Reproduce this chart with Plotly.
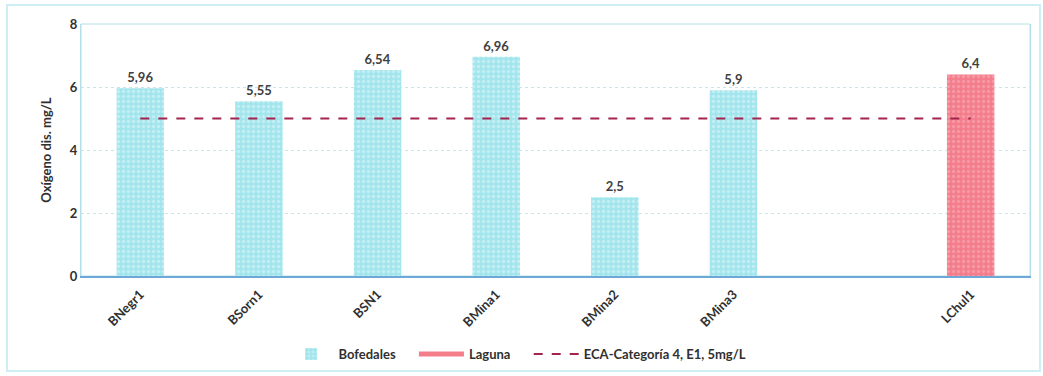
import plotly.graph_objects as go

# Dissolved oxygen per sampling station (mg/L)
stations = ["BNegr1", "BSorn1", "BSN1", "BMina1", "BMina2", "BMina3", " ", "LChul1"]
bofedales_values = [5.96, 5.55, 6.54, 6.96, 2.5, 5.9, None, None]
laguna_values = [None, None, None, None, None, None, None, 6.4]
eca_limit = 5
y_ticks = [0, 2, 4, 6, 8]

FONT = "Lato, 'Open Sans', sans-serif"
CYAN = "#a3e5ec"
RED = "#f47d8c"
PAD = "&nbsp;" * 4

fig = go.Figure()

fig.add_trace(go.Bar(
    x=stations, y=bofedales_values, name="<b>Bofedales</b>" + PAD,
    marker=dict(color=CYAN, line=dict(width=0),
                pattern=dict(shape=".", fgcolor="#e4f8fa", size=5, solidity=0.35,
                             fillmode="overlay")),
    width=0.4,
    text=bofedales_values, texttemplate="<b>%{y}</b>", textposition="outside",
    textfont=dict(family=FONT, size=13, color="#404040"),
    cliponaxis=False, showlegend=True,
))

fig.add_trace(go.Bar(
    x=stations, y=laguna_values, name="Laguna",
    marker=dict(color=RED, line=dict(width=0),
                pattern=dict(shape=".", fgcolor="#f9b3bd", size=5, solidity=0.35,
                             fillmode="overlay")),
    width=0.4,
    text=laguna_values, texttemplate="<b>%{y}</b>", textposition="outside",
    textfont=dict(family=FONT, size=13, color="#404040"),
    cliponaxis=False, showlegend=False,
))

# Legend entry for the lagoon series drawn as a thick line
fig.add_trace(go.Scatter(
    x=[None], y=[None], mode="lines", name="<b>Laguna</b>" + PAD,
    line=dict(color=RED, width=5), showlegend=True,
))

# ECA reference limit, drawn across every station
fig.add_trace(go.Scatter(
    x=stations, y=[eca_limit] * len(stations), mode="lines",
    name="<b>ECA-Categoría 4, E1, 5mg/L</b>",
    line=dict(color="#a3254f", width=2, dash="dash"),
))

fig.update_layout(
    width=1043, height=376,
    margin=dict(l=81, r=13, t=24, b=100, autoexpand=False),
    paper_bgcolor="white", plot_bgcolor="white",
    barmode="overlay", separators=",.",
    font=dict(family=FONT, color="#404040"),
    legend=dict(orientation="h", x=0.46, xanchor="center", y=-0.31, yanchor="middle",
                font=dict(family=FONT, size=13, color="#303030"),
                traceorder="normal", itemwidth=45),
    shapes=[dict(type="rect", xref="paper", yref="paper",
                 x0=-0.078, x1=1.0105, y0=-0.377, y1=1.075,
                 line=dict(color="#cdeff3", width=2), fillcolor="rgba(0,0,0,0)",
                 layer="below")],
)

fig.update_xaxes(
    type="category", tickangle=-45, automargin=False,
    tickfont=dict(family=FONT, size=13, color="#303030"),
    ticklabelstandoff=4,
    showline=True, linecolor="#6ea8d6", linewidth=1.5, mirror=False,
    showgrid=False, ticks="",
    tickvals=stations,
    ticktext=["<b>%s</b>" % s.strip() if s.strip() else "" for s in stations],
)

fig.update_yaxes(
    range=[0, 8], tickvals=y_ticks, automargin=False,
    tickfont=dict(family=FONT, size=13, color="#303030"),
    ticktext=["<b>%d</b>" % v for v in y_ticks],
    title=dict(text="<b>Oxígeno dis. mg/L</b>", font=dict(family=FONT, size=13, color="#303030"),
               standoff=15),
    showgrid=True, gridcolor="#c7e6ea", griddash="dot", gridwidth=1,
    showline=True, linecolor="#b3e0e8", linewidth=1, mirror=True,
    zeroline=False, ticks="",
)

# Plot-area frame
fig.add_shape(type="rect", xref="paper", yref="paper", x0=0, x1=1, y0=0, y1=1,
              line=dict(color="#b3e0e8", width=1), layer="below")

fig.write_html("out.html")
